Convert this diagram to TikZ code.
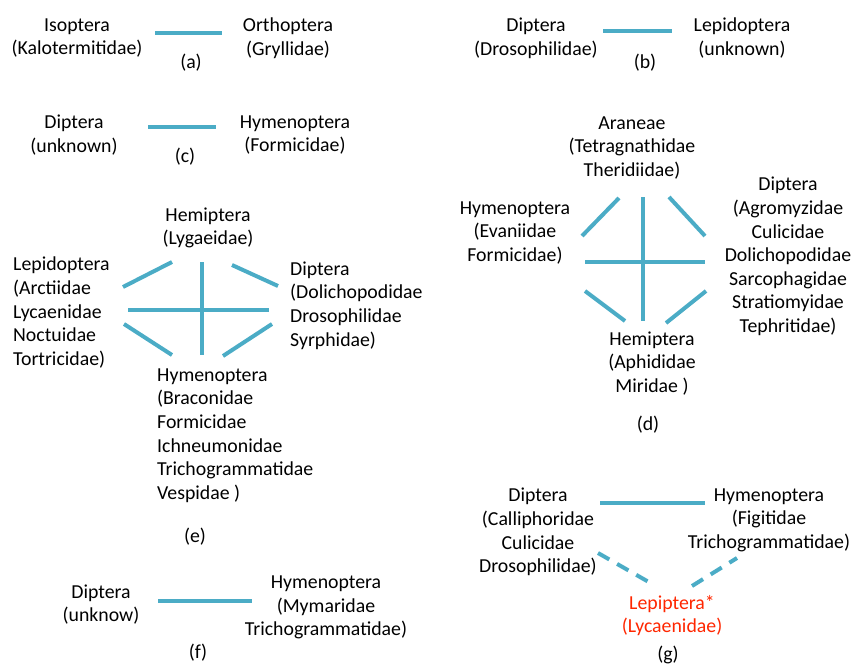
\documentclass[tikz,border=0pt]{standalone}
\usepackage{fontspec}
\setmainfont{Carlito}
\definecolor{linkc}{RGB}{75,172,198}
\definecolor{redc}{RGB}{255,38,0}
\begin{document}
\begin{tikzpicture}[x=1pt,y=-1pt,
  lbl/.style={inner sep=0pt, font=\fontsize{19.8}{23.6}\selectfont, align=center},
  lblL/.style={lbl, align=left, anchor=west},
  link/.style={line width=4pt, draw=linkc},
  dlink/.style={link, dash pattern=on 13pt off 9pt}]
\useasboundingbox (0,0) rectangle (853,666);
% (a)
\node[lbl] (a1) at (77,38) {Isoptera\\(Kalotermitidae)};
\node[lbl] (a2) at (288,38) {Orthoptera\\(Gryllidae)};
\node[lbl] (aL) at (191,63) {(a)};
\coordinate (a1e) at (155,33); \coordinate (a2e) at (222,33);
\draw[link] (a1e) -- (a2e);
% (b)
\node[lbl] (b1) at (536,38) {Diptera\\(Drosophilidae)};
\node[lbl] (b2) at (742,38) {Lepidoptera\\(unknown)};
\node[lbl] (bL) at (645,63) {(b)};
\coordinate (b1e) at (603,31); \coordinate (b2e) at (672,31);
\draw[link] (b1e) -- (b2e);
% (c)
\node[lbl] (c1) at (74,135) {Diptera\\(unknown)};
\node[lbl] (c2) at (295,135) {Hymenoptera\\(Formicidae)};
\node[lbl] (cL) at (185,157) {(c)};
\coordinate (c1e) at (148,127); \coordinate (c2e) at (216,127);
\draw[link] (c1e) -- (c2e);
% (e)
\node[lbl] (e1) at (208,228) {Hemiptera\\(Lygaeidae)};
\node[lblL] (e2) at (13,312.5) {Lepidoptera\\(Arctiidae\\Lycaenidae\\Noctuidae\\Tortricidae)};
\node[lblL] (e3) at (290,305.5) {Diptera\\(Dolichopodidae\\Drosophilidae\\Syrphidae)};
\node[lblL] (e4) at (157,435.5) {Hymenoptera\\(Braconidae\\Formicidae\\Ichneumonidae\\Trichogrammatidae\\Vespidae )};
\node[lbl] (eL) at (195,537) {(e)};
\coordinate (e21) at (123,287); \coordinate (e12) at (172,262);
\coordinate (e14) at (202,262); \coordinate (e41) at (202,355);
\coordinate (e13) at (232,265); \coordinate (e31) at (278,286);
\coordinate (e23) at (128,310); \coordinate (e32) at (269,310);
\coordinate (e24) at (124,324); \coordinate (e42) at (172,355);
\coordinate (e43) at (223,356); \coordinate (e34) at (272,324);
\draw[link] (e21) -- (e12);
\draw[link] (e14) -- (e41);
\draw[link] (e13) -- (e31);
\draw[link] (e23) -- (e32);
\draw[link] (e24) -- (e42);
\draw[link] (e43) -- (e34);
% (d)
\node[lbl] (d1) at (632,148) {Araneae\\(Tetragnathidae\\Theridiidae)};
\node[lbl] (d2) at (515,233) {Hymenoptera\\(Evaniidae\\Formicidae)};
\node[lbl] (d3) at (788,256.5) {Diptera\\(Agromyzidae\\Culicidae\\Dolichopodidae\\Sarcophagidae\\Stratiomyidae\\Tephritidae)};
\node[lbl] (d4) at (652,363.5) {Hemiptera\\(Aphididae\\Miridae )};
\node[lbl] (dL) at (648,425) {(d)};
\coordinate (d21) at (582,236); \coordinate (d12) at (619,198);
\coordinate (d14) at (643,197); \coordinate (d41) at (643,321);
\coordinate (d13) at (669,197); \coordinate (d31) at (705,236);
\coordinate (d23) at (585,262); \coordinate (d32) at (705,262);
\coordinate (d24) at (585,291); \coordinate (d42) at (625,321);
\coordinate (d43) at (666,323); \coordinate (d34) at (706,291);
\draw[link] (d21) -- (d12);
\draw[link] (d14) -- (d41);
\draw[link] (d13) -- (d31);
\draw[link] (d23) -- (d32);
\draw[link] (d24) -- (d42);
\draw[link] (d43) -- (d34);
% (g)
\node[lbl] (g1) at (538,532) {Diptera\\(Calliphoridae\\Culicidae\\Drosophilidae)};
\node[lbl] (g2) at (769,520) {Hymenoptera\\(Figitidae\\Trichogrammatidae)};
\node[lbl, text=redc] (g3) at (672,615.5) {Lepiptera*\\(Lycaenidae)};
\node[lbl] (gL) at (668,655) {(g)};
\coordinate (g12) at (600,503); \coordinate (g21) at (705,503);
\coordinate (g13) at (598,553); \coordinate (g31) at (654,585);
\coordinate (g32) at (692,586); \coordinate (g23) at (737,558);
\draw[link] (g12) -- (g21);
\draw[dlink] (g13) -- (g31);
\draw[dlink] (g32) -- (g23);
% (f)
\node[lbl] (f1) at (101,604.5) {Diptera\\(unknow)};
\node[lbl] (f2) at (326,607.5) {Hymenoptera\\(Mymaridae\\Trichogrammatidae)};
\node[lbl] (fL) at (198,653) {(f)};
\coordinate (f1e) at (158,601); \coordinate (f2e) at (252,601);
\draw[link] (f1e) -- (f2e);
\end{tikzpicture}
\end{document}
